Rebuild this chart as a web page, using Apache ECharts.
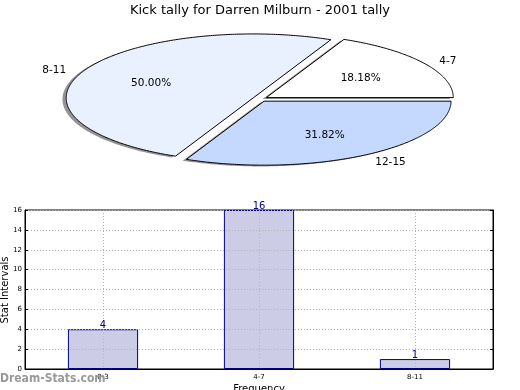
<!DOCTYPE html>
<html><head><meta charset="utf-8">
<script src="https://cdn.jsdelivr.net/npm/echarts@6/dist/echarts.min.js"></script>
<style>html,body{margin:0;padding:0;background:#fff}#c{width:520px;height:390px}</style>
</head><body><div id="c"></div>
<script>
// Pie data
const pieLabels = ['4-7', '8-11', '12-15'];
const pieValues = [4, 11, 7];
const pieColors = ['#ffffff', '#eaf1fe', '#c4d9fd'];
// Bar data
const barCategories = ['0-3', '4-7', '8-11'];
const barValues = [4, 16, 1];
const yTicks = [0, 2, 4, 6, 8, 10, 12, 14, 16];

const title = 'Kick tally for Darren Milburn - 2001 tally';
const FONT = 'DejaVu Sans';

// pie geometry (ellipse)
const CX = 260, CY = 99, RX = 187, RY = 64, EXPLODE = 0.04;
const total = pieValues.reduce((a, b) => a + b, 0);
function sliceAngles(i) {
  let s = 0;
  for (let k = 0; k < i; k++) s += pieValues[k];
  const a0 = s / total * 2 * Math.PI;
  const a1 = (s + pieValues[i]) / total * 2 * Math.PI;
  return [a0, a1];
}
function slicePoints(i, dx, dy) {
  const [a0, a1] = sliceAngles(i);
  const mid = (a0 + a1) / 2;
  const ox = CX + EXPLODE * RX * Math.cos(mid) + dx;
  const oy = CY - EXPLODE * RY * Math.sin(mid) + dy;
  const pts = [[ox, oy]];
  const n = Math.max(8, Math.ceil((a1 - a0) / 0.01));
  for (let k = 0; k <= n; k++) {
    const a = a0 + (a1 - a0) * k / n;
    pts.push([ox + RX * Math.cos(a), oy - RY * Math.sin(a)]);
  }
  return {pts, ox, oy, mid};
}

const chart = echarts.init(document.getElementById('c'), null, {renderer: 'canvas'});
chart.setOption({
  animation: false,
  backgroundColor: '#ffffff',
  title: {
    text: title, left: 'center', top: -1,
    textStyle: {fontFamily: FONT, fontSize: 13, fontWeight: 'normal', color: '#000'}
  },
  graphic: [
    {
      type: 'text', left: 0, top: 373, z: 10,
      style: {text: 'Dream-Stats.com', fontFamily: 'DejaVu Sans Condensed', fontWeight: 'bold', fontSize: 12, fill: '#999999'}
    },
    {
      type: 'text', x: 5, y: 290, rotation: Math.PI / 2,
      style: {text: 'Stat Intervals', align: 'center', verticalAlign: 'middle',
        fontFamily: FONT, fontSize: 10, fill: '#000'}
    }
  ],
  grid: {left: 25, right: 27, top: 210, bottom: 21, containLabel: false, outerBoundsMode: 'none',
    show: true, borderColor: '#000', borderWidth: 1, backgroundColor: 'transparent'},
  xAxis: {
    type: 'category', data: barCategories, z: 3,
    name: 'Frequency', nameLocation: 'middle', nameGap: 15,
    nameTextStyle: {fontFamily: FONT, fontSize: 10, color: '#000'},
    axisLine: {lineStyle: {color: '#000'}},
    axisTick: {show: false},
    axisLabel: {fontFamily: FONT, fontSize: 7, color: '#000', margin: 5},
    splitLine: {show: true, alignWithLabel: true, lineStyle: {color: '#b4b4b4', type: [1, 2], width: 1}}
  },
  yAxis: [
    {
      type: 'value', min: 0, max: 16, interval: 2, z: 3,
      axisLine: {show: true, lineStyle: {color: '#000'}},
      axisTick: {show: true, inside: true, length: 3, lineStyle: {color: '#000'}},
      axisLabel: {fontFamily: FONT, fontSize: 7, color: '#000', margin: 3},
      splitLine: {show: true, lineStyle: {color: '#b4b4b4', type: [1, 2], width: 1}}
    },
    {
      type: 'value', min: 0, max: 16, interval: 2, position: 'right', z: 3,
      axisLine: {show: true, lineStyle: {color: '#000'}},
      axisTick: {show: true, inside: true, length: 3, lineStyle: {color: '#000'}},
      axisLabel: {show: false},
      splitLine: {show: false}
    }
  ],
  series: [
    {
      type: 'bar', data: barValues, barWidth: '45%', z: 2,
      itemStyle: {color: '#cccce6', borderColor: '#000080', borderWidth: 1}
    },
    {
      type: 'bar', data: barValues, barWidth: '45%', barGap: '-100%', z: 5, silent: true,
      itemStyle: {color: 'rgba(0,0,0,0)', borderWidth: 0},
      label: {show: true, position: 'top', distance: -1, fontFamily: FONT, fontSize: 10, color: '#000080'}
    },
    {
      type: 'custom', coordinateSystem: 'none', silent: true, z: 3,
      data: pieValues.map((v, i) => [i, v]),
      renderItem: function (params, api) {
        const i = params.dataIndex;
        const s = slicePoints(i, -0.02 * RX, 0.02 * RY);
        return {type: 'polygon', shape: {points: s.pts},
          style: {fill: 'rgba(60,60,64,0.55)', stroke: null}};
      }
    },
    {
      type: 'custom', coordinateSystem: 'none', silent: true, z: 4,
      data: pieValues.map((v, i) => [i, v]),
      renderItem: function (params, api) {
        const i = params.dataIndex;
        const s = slicePoints(i, 0, 0);
        const cm = Math.cos(s.mid), sm = Math.sin(s.mid);
        const lx = s.ox + 1.1 * RX * cm, ly = s.oy - 1.1 * RY * sm + 1.5;
        const px = s.ox + 0.6 * RX * cm, py = s.oy - 0.6 * RY * sm + 1.5;
        const pct = (pieValues[i] / total * 100).toFixed(2) + '%';
        return {type: 'group', children: [
          {type: 'polygon', shape: {points: s.pts},
            style: {fill: pieColors[i], stroke: '#000', lineWidth: 1, lineJoin: 'miter'}},
          {type: 'text', style: {text: pieLabels[i], x: lx, y: ly,
            align: cm >= 0 ? 'left' : 'right', verticalAlign: 'middle',
            fontFamily: FONT, fontSize: 10.5, fill: '#000'}},
          {type: 'text', style: {text: pct, x: px, y: py,
            align: 'center', verticalAlign: 'middle',
            fontFamily: FONT, fontSize: 10.5, fill: '#000'}}
        ]};
      }
    }
  ]
});
</script></body></html>
